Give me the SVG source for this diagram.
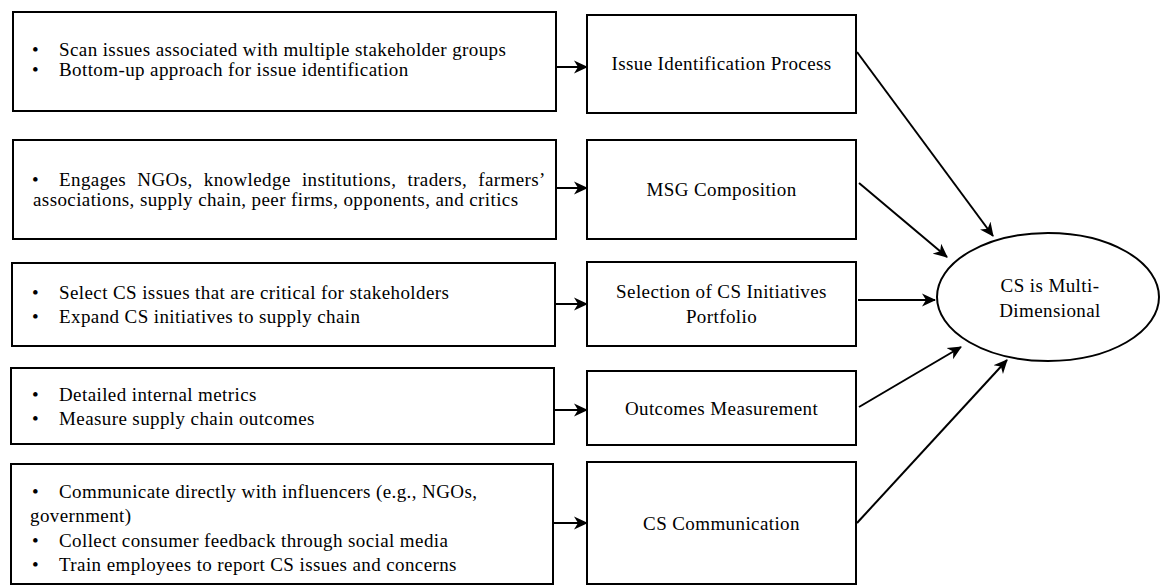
<svg xmlns="http://www.w3.org/2000/svg" width="1161" height="586" viewBox="0 0 1161 586">
<style>
  .box { fill: #ffffff; stroke: #000000; stroke-width: 2; }
  .t { font-family: "Liberation Serif", "Times New Roman", serif; font-size: 19px; letter-spacing: 0.4px; fill: #000000; }
  .c { text-anchor: middle; }
  .conn { stroke: #000000; stroke-width: 2; fill: none; marker-end: url(#arrow); }
</style>
<defs>
  <marker id="arrow" viewBox="0 0 14 14" refX="13" refY="7" markerWidth="14" markerHeight="14" markerUnits="userSpaceOnUse" orient="auto">
    <path d="M0,0.5 L14,7 L0,13.5 L4,7 z" fill="#000000"/>
  </marker>
</defs>
<rect x="0" y="0" width="1161" height="586" fill="#ffffff"/>

<g id="detail-issue">
  <rect class="box" x="13" y="12" width="543" height="99"/>
  <text class="t" x="32" y="56">•</text>
  <text class="t" x="59" y="56">Scan issues associated with multiple stakeholder groups</text>
  <text class="t" x="32" y="76">•</text>
  <text class="t" x="59" y="76">Bottom-up approach for issue identification</text>
</g>
<g id="detail-msg">
  <rect class="box" x="13" y="140" width="543" height="99"/>
  <text class="t" x="32" y="186">•</text>
  <text class="t" x="59" y="186" word-spacing="6">Engages NGOs, knowledge institutions, traders, farmers’</text>
  <text class="t" x="33" y="206">associations, supply chain, peer firms, opponents, and critics</text>
</g>
<g id="detail-selection">
  <rect class="box" x="12" y="263" width="543" height="83"/>
  <text class="t" x="32" y="299">•</text>
  <text class="t" x="59" y="299">Select CS issues that are critical for stakeholders</text>
  <text class="t" x="32" y="323">•</text>
  <text class="t" x="59" y="323">Expand CS initiatives to supply chain</text>
</g>
<g id="detail-outcomes">
  <rect class="box" x="11" y="368" width="543" height="76"/>
  <text class="t" x="32" y="401">•</text>
  <text class="t" x="59" y="401">Detailed internal metrics</text>
  <text class="t" x="32" y="425">•</text>
  <text class="t" x="59" y="425">Measure supply chain outcomes</text>
</g>
<g id="detail-communication">
  <rect class="box" x="11" y="464" width="542" height="120"/>
  <text class="t" x="32" y="498">•</text>
  <text class="t" x="59" y="498">Communicate directly with influencers (e.g., NGOs,</text>
  <text class="t" x="30" y="522">government)</text>
  <text class="t" x="32" y="547">•</text>
  <text class="t" x="59" y="547">Collect consumer feedback through social media</text>
  <text class="t" x="32" y="571">•</text>
  <text class="t" x="59" y="571">Train employees to report CS issues and concerns</text>
</g>

<g id="issue-identification">
  <rect class="box" x="587" y="15" width="269" height="98"/>
  <text class="t c" x="721.5" y="70">Issue Identification Process</text>
</g>
<g id="msg-composition">
  <rect class="box" x="587" y="140" width="269" height="99"/>
  <text class="t c" x="721.5" y="196">MSG Composition</text>
</g>
<g id="selection-portfolio">
  <rect class="box" x="587" y="262" width="269" height="84"/>
  <text class="t c" x="721.5" y="298">Selection of CS Initiatives</text>
  <text class="t c" x="721.5" y="323">Portfolio</text>
</g>
<g id="outcomes-measurement">
  <rect class="box" x="587" y="371" width="269" height="74"/>
  <text class="t c" x="721.5" y="415">Outcomes Measurement</text>
</g>
<g id="cs-communication">
  <rect class="box" x="587" y="462" width="269" height="122"/>
  <text class="t c" x="721.5" y="530">CS Communication</text>
</g>

<g id="cs-multidimensional">
  <ellipse class="box" cx="1048" cy="297" rx="111" ry="64"/>
  <text class="t c" x="1050" y="292">CS is Multi-</text>
  <text class="t c" x="1050" y="317">Dimensional</text>
</g>

<g id="connectors">
  <path class="conn" d="M557,67 L587,67"/>
  <path class="conn" d="M557,188 L587,188"/>
  <path class="conn" d="M556,304 L587,304"/>
  <path class="conn" d="M555,410 L587,410"/>
  <path class="conn" d="M554,523 L587,523"/>
  <path class="conn" d="M857,52 L993,236"/>
  <path class="conn" d="M859,183 L947,257"/>
  <path class="conn" d="M858,300 L935,300"/>
  <path class="conn" d="M859,407 L961,347"/>
  <path class="conn" d="M857,523 L1007,360"/>
</g>
</svg>
